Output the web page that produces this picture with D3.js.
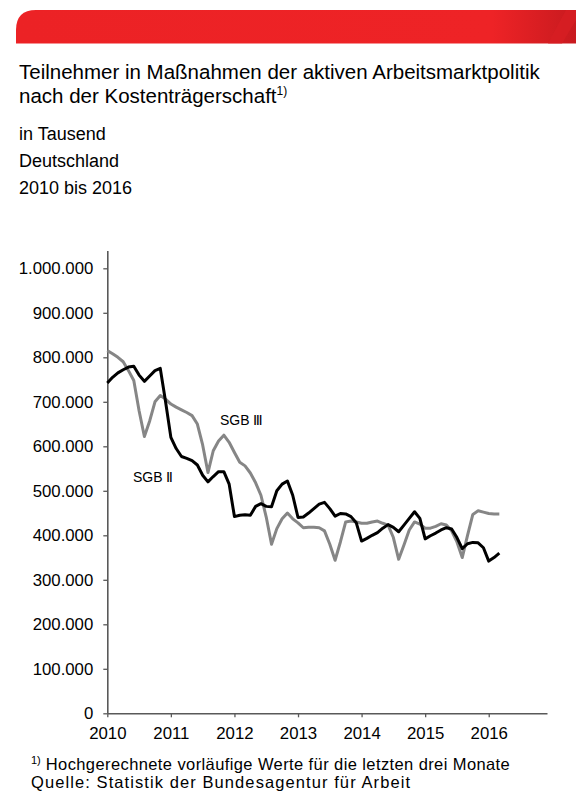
<!DOCTYPE html>
<html lang="de">
<head>
<meta charset="utf-8">
<script src="https://cdn.jsdelivr.net/npm/d3@7"></script>
<style>
  html, body { margin: 0; padding: 0; background: #fff; }
  svg { display: block; font-family: "Liberation Sans", Arial, sans-serif; }
</style>
</head>
<body>
<svg id="chart" width="576" height="791"></svg>
<script>
// Teilnehmer (in Tausend), monatlich Januar 2010 bis März 2016
const startYear = 2010;
const yearTicks = [2010, 2011, 2012, 2013, 2014, 2015, 2016];
const valueTicks = [0, 100000, 200000, 300000, 400000, 500000, 600000, 700000, 800000, 900000, 1000000];

// SGB II (Grundsicherung)
const sgbII = [
  742, 755, 765, 772, 778, 780, 760, 746, 758, 770, 775, 700,
  620, 595, 577, 573, 568, 558, 535, 520, 532, 543, 543, 515,
  442, 445, 446, 445, 465, 471, 465, 464, 500, 515, 522, 490,
  440, 441, 450, 460, 470, 474, 460, 443, 449, 448, 442, 428,
  387, 393, 400, 406, 416, 424, 418, 408, 423, 438, 453, 438,
  392, 399, 405, 412, 417, 414, 395, 370, 381, 384, 383, 372,
  342, 350, 360
];

// SGB III (Arbeitsförderung)
const sgbIII = [
  815, 808, 800, 790, 770, 748, 680, 622, 657, 700, 714, 706,
  695, 688, 682, 676, 669, 650, 603, 541, 590, 612, 625, 609,
  586, 564, 556, 540, 518, 490, 441, 380, 415, 437, 450, 437,
  428, 417, 418, 418, 417, 410, 380, 344, 385, 430, 432, 430,
  427, 427, 430, 432, 427, 423, 395, 346, 378, 412, 430, 425,
  416, 416, 420, 426, 423, 410, 385, 350, 400, 447, 455, 452,
  449, 448, 448
];

const seriesLabels = ["SGB \u2161", "SGB \u2162"];

const svg = d3.select("#chart");
const de = d3.formatLocale({ decimal: ",", thousands: ".", grouping: [3], currency: ["", " €"] });
const fmt = de.format(",d");

// Kopfbalken
const defs = svg.append("defs");
const grad = defs.append("linearGradient").attr("id", "band").attr("x1", "0").attr("x2", "1");
grad.append("stop").attr("offset", "0").attr("stop-color", "#ec2225");
grad.append("stop").attr("offset", "0.85").attr("stop-color", "#ee2326");
grad.append("stop").attr("offset", "1").attr("stop-color", "#c81a1f");
const bx = 16, by = 10, bh = 33.5, r = 20;
svg.append("path")
  .attr("d", `M${bx},${by + bh} L${bx},${by + r} Q${bx},${by} ${bx + r},${by} L576,${by} L576,${by + bh} Z`)
  .attr("fill", "url(#band)");
svg.append("path")
  .attr("d", `M548,${by + bh} L566,${by} L576,${by} L576,${by + 10} L562,${by + bh} Z`)
  .attr("fill", "#d71e23").attr("opacity", 0.8);

// Titel und Untertitel
const title = svg.append("text").attr("x", 19).attr("y", 79).attr("font-size", 20.5).attr("fill", "#000");
title.text("Teilnehmer in Maßnahmen der aktiven Arbeitsmarktpolitik");
const t2 = svg.append("text").attr("x", 19).attr("y", 103).attr("font-size", 20.5).attr("fill", "#000");
t2.append("tspan").text("nach der Kostenträgerschaft");
t2.append("tspan").attr("font-size", 12).attr("dy", -8).text("1)");

const subs = ["in Tausend", "Deutschland", "2010 bis 2016"];
svg.selectAll("text.sub").data(subs).join("text")
  .attr("class", "sub")
  .attr("x", 19)
  .attr("y", (d, i) => 140 + i * 27)
  .attr("font-size", 18)
  .attr("fill", "#000")
  .text(d => d);

// Skalen
const x = d3.scaleLinear().domain([0, 83]).range([107.3, 547]);
const y = d3.scaleLinear().domain([0, 1040000]).range([713.3, 250.5]);
const axisColor = "#595959";

// y-Achse
const yAxis = svg.append("g").attr("transform", `translate(${x(0)},0)`)
  .call(d3.axisLeft(y).tickValues(valueTicks).tickFormat(fmt).tickSize(4).tickPadding(10).tickSizeOuter(0));
yAxis.select(".domain").attr("stroke", axisColor).attr("stroke-width", 1.6);
yAxis.selectAll(".tick line").attr("stroke", axisColor).attr("stroke-width", 1.3);
yAxis.selectAll(".tick text").attr("font-size", 16.8).attr("fill", "#000")
  .attr("font-family", "Liberation Sans, Arial, sans-serif");

// x-Achse
const xAxis = svg.append("g").attr("transform", `translate(0,${y(0)})`)
  .call(d3.axisBottom(x).tickValues(yearTicks.map(yr => (yr - startYear) * 12))
    .tickFormat(m => String(startYear + m / 12)).tickSize(4).tickPadding(10).tickSizeOuter(0));
xAxis.select(".domain").attr("stroke", axisColor).attr("stroke-width", 1.6);
xAxis.selectAll(".tick line").attr("stroke", axisColor).attr("stroke-width", 1.3);
xAxis.selectAll(".tick text").attr("font-size", 16.8).attr("fill", "#000")
  .attr("font-family", "Liberation Sans, Arial, sans-serif");

// Linien
const line = d3.line().x((d, i) => x(i)).y(d => y(d * 1000)).curve(d3.curveLinear);
svg.append("path").datum(sgbIII).attr("d", line)
  .attr("fill", "none").attr("stroke", "#868686").attr("stroke-width", 3).attr("stroke-linejoin", "round");
svg.append("path").datum(sgbII).attr("d", line)
  .attr("fill", "none").attr("stroke", "#000").attr("stroke-width", 3).attr("stroke-linejoin", "round");

// Reihenbeschriftungen
svg.append("text").attr("x", 133).attr("y", 482).attr("font-size", 14).attr("fill", "#000").text(seriesLabels[0]);
svg.append("text").attr("x", 220).attr("y", 425).attr("font-size", 14).attr("fill", "#000").text(seriesLabels[1]);

// Fußnote und Quelle
const fn = svg.append("text").attr("x", 31).attr("y", 769.5).attr("font-size", 16.5).attr("fill", "#000");
fn.append("tspan").attr("font-size", 11).attr("dy", -6).text("1)");
fn.append("tspan").attr("dy", 6).attr("textLength", 469).attr("lengthAdjust", "spacing")
  .text(" Hochgerechnete vorläufige Werte für die letzten drei Monate");
svg.append("text").attr("x", 31).attr("y", 788).attr("font-size", 16.5).attr("fill", "#000")
  .attr("textLength", 379).attr("lengthAdjust", "spacing")
  .text("Quelle: Statistik der Bundesagentur für Arbeit");
</script>
</body>
</html>
